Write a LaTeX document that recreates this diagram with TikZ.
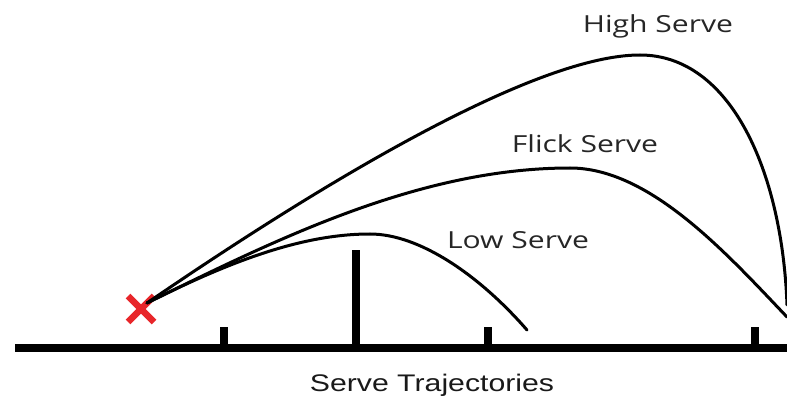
\documentclass[tikz,border=0pt]{standalone}
\usepackage{fontspec}
\setmainfont{Open Sans}
\newfontfamily\titlefont{Liberation Sans}
\definecolor{crossred}{RGB}{232,38,42}
\begin{document}
\begin{tikzpicture}[x=1pt,y=-1pt,
  traj/.style={line width=3pt, line cap=round},
  tickmark/.style={line width=8pt},
  lbl/.style={font=\fontsize{23.5}{26}\selectfont, text=black!85, xscale=1.28, anchor=base, inner sep=0pt},
  titlelbl/.style={font=\titlefont\fontsize{24}{27}\selectfont, text=black!90, xscale=1.26, anchor=base, inner sep=0pt}]
\useasboundingbox (0,0) rectangle (787,398);
% ground
\draw[line width=7.5pt] (15,348) -- (787,348);
\draw[tickmark] (223.5,348) -- (223.5,327);
\draw[tickmark] (356,348) -- (356,250);
\draw[tickmark] (488,348) -- (488,327);
\draw[tickmark] (754.5,348) -- (754.5,327);
% start point
\coordinate (s) at (147,303);
\coordinate (hp) at (640,55);
\coordinate (he) at (787,305);
\coordinate (fp) at (570,168);
\coordinate (fe) at (787,317);
\coordinate (lp) at (370,234);
\coordinate (le) at (527,330);
% cross
\draw[crossred, line width=6.5pt] (128,296) -- (154,322) (154,296) -- (128,322);
% trajectories
\draw[traj] (s) .. controls (267,221) and (520,55) .. (hp)
  .. controls (730,55) and (782,170) .. (he);
\draw[traj] (s) .. controls (277,239) and (420,168) .. (fp)
  .. controls (650,168) and (727,254) .. (fe);
\draw[traj] (s) .. controls (227,263) and (300,234) .. (lp)
  .. controls (420,234) and (480,276) .. (le);
% labels
\node[lbl] (high) at (658,33) {High Serve};
\node[lbl] (flick) at (585,153) {Flick Serve};
\node[lbl] (low) at (518,248) {Low Serve};
\node[titlelbl] (title) at (432,391.5) {Serve Trajectories};
\end{tikzpicture}
\end{document}
